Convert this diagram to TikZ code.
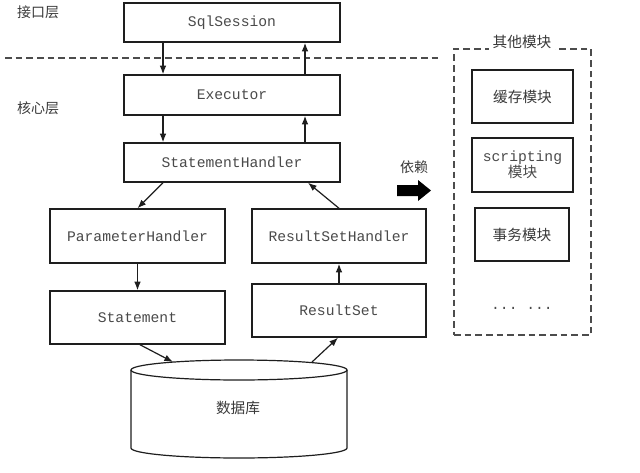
\documentclass[tikz,border=0pt]{standalone}
\usepackage{fontspec}
\setmonofont{Liberation Mono}
\newfontfamily\cjk{Noto Sans CJK SC}
\usetikzlibrary{arrows.meta}
\def\px{0.75pt}
\definecolor{txtc}{HTML}{3A3A3A}
\definecolor{monoc}{HTML}{4A4A4A}
\definecolor{linec}{HTML}{1E1E1E}
\tikzset{
  box/.style={draw=linec, line width=1.1pt, fill=white, inner sep=0pt, align=center,
    font=\fontsize{11}{13}\selectfont\ttfamily, text=monoc},
  cbox/.style={box, font=\fontsize{11}{14}\selectfont\cjk, text=txtc},
  arr/.style={draw=linec, line width=0.9pt, -{Latex[length=6.5pt,width=5pt]}},
  lbl/.style={font=\fontsize{10.5}{12}\selectfont\cjk, text=txtc, inner sep=1pt},
  dsh/.style={draw=black!70, line width=0.8pt, dash pattern=on 5pt off 3pt},
}
\begin{document}
\begin{tikzpicture}[x=0.75pt,y=-0.75pt]
\useasboundingbox (0,0) rectangle (640,472);
% layer labels and separator
\node[lbl] (l1) at (38,12) {接口层};
\node[lbl] (l2) at (38,108) {核心层};
\draw[dsh] (5,58) -- (440,58);
% main boxes
\node[box, minimum width=216*\px, minimum height=39*\px] (ss) at (232,22.5) {SqlSession};
\node[box, minimum width=216*\px, minimum height=40*\px] (ex) at (232,95) {Executor};
\node[box, minimum width=216*\px, minimum height=39*\px] (sh) at (232,162.5) {StatementHandler};
\node[box, minimum width=175*\px, minimum height=54*\px] (ph) at (137.5,236) {ParameterHandler};
\node[box, minimum width=174*\px, minimum height=54*\px] (rsh) at (339,236) {ResultSetHandler};
\node[box, minimum width=175*\px, minimum height=53*\px] (st) at (137.5,317.5) {Statement};
\node[box, minimum width=174*\px, minimum height=53*\px] (rs) at (339,310.5) {ResultSet};
% database cylinder
\fill[white] (131,370) -- (131,448) arc[start angle=180,end angle=360,x radius=108*\px,y radius=10*\px] -- (347,370) -- cycle;
\draw[draw=linec, line width=0.9pt] (131,370) -- (131,448) arc[start angle=180,end angle=360,x radius=108*\px,y radius=10*\px] -- (347,370);
\draw[draw=linec, line width=0.9pt, fill=white] (239,370) ellipse[x radius=108*\px, y radius=10*\px];
\node[font=\fontsize{11}{13}\selectfont\cjk, text=txtc] (db) at (238,408) {数据库};
\coordinate (dbin) at (173,362);
\coordinate (dbout) at (312,362);
% connectors
\draw[arr] ([xshift=-69*\px]ss.south) -- ([xshift=-69*\px]ex.north);
\draw[arr] ([xshift=73*\px]ex.north) -- ([xshift=73*\px]ss.south);
\draw[arr] ([xshift=-69*\px]ex.south) -- ([xshift=-69*\px]sh.north);
\draw[arr] ([xshift=73*\px]sh.north) -- ([xshift=73*\px]ex.south);
\draw[arr] ([xshift=-69*\px]sh.south) -- (ph.north);
\draw[arr] (rsh.north) -- ([xshift=76*\px]sh.south);
\draw[arr] (ph.south) -- (st.north);
\draw[arr] (rs.north) -- (rsh.south);
\draw[arr] ([xshift=2.5*\px]st.south) -- (dbin);
\draw[arr] (dbout) -- ([xshift=-1*\px]rs.south);
% dependency arrow
\node[lbl] (dep) at (414,167) {依赖};
\fill[black] (397,185) -- (418,185) -- (418,180) -- (431,190.5) -- (418,201) -- (418,196) -- (397,196) -- cycle;
% other modules
\node[dsh, minimum width=137*\px, minimum height=286*\px, inner sep=0pt] (other) at (522.5,192) {};
\node[lbl, fill=white, inner sep=3pt, font=\fontsize{11}{13}\selectfont\cjk] (othert) at (522,42) {其他模块};
\node[cbox, minimum width=101*\px, minimum height=53*\px] (cache) at (522.5,96.5) {缓存模块};
\node[box, minimum width=101*\px, minimum height=54*\px, font=\fontsize{11}{13}\selectfont\ttfamily] (scr) at (522.5,165) {scripting\\[-1pt]{\cjk 模块}};
\node[cbox, minimum width=94*\px, minimum height=53*\px] (tx) at (522,234.5) {事务模块};
\node[font=\fontsize{11}{13}\selectfont\ttfamily, text=monoc] (dots) at (522,308) {... ...};
\end{tikzpicture}
\end{document}
